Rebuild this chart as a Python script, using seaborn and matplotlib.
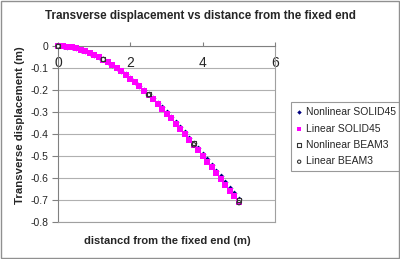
import matplotlib
matplotlib.use("Agg")
import matplotlib.pyplot as plt
import seaborn as sns
import pandas as pd
from matplotlib.patches import Rectangle

sns.set_style("white")
plt.rcParams['font.family'] = ['Liberation Sans', 'DejaVu Sans']

# SOLID45 nodal positions (m)
x_solid = [0.0, 0.125, 0.25, 0.375, 0.5, 0.625, 0.75, 0.875, 1.0, 1.125, 1.25,
           1.375, 1.5, 1.625, 1.75, 1.875, 2.0, 2.125, 2.25, 2.375, 2.5,
           2.625, 2.75, 2.875, 3.0, 3.125, 3.25, 3.375, 3.5, 3.625, 3.75,
           3.875, 4.0, 4.125, 4.25, 4.375, 4.5, 4.625, 4.75, 4.875, 5.0]
y_lin_solid = [0.0, -0.001, -0.003, -0.006, -0.010, -0.016, -0.023, -0.031, -0.040, -0.050, -0.061,
               -0.073, -0.086, -0.100, -0.115, -0.131, -0.148, -0.165, -0.183, -0.202, -0.222,
               -0.242, -0.263, -0.285, -0.307, -0.329, -0.353, -0.376, -0.400, -0.425, -0.449,
               -0.474, -0.500, -0.526, -0.551, -0.578, -0.604, -0.630, -0.657, -0.683, -0.710]
y_nl_solid = [0.0, -0.001, -0.003, -0.006, -0.010, -0.016, -0.022, -0.030, -0.039, -0.049, -0.060,
              -0.072, -0.084, -0.098, -0.113, -0.128, -0.145, -0.162, -0.180, -0.198, -0.217,
              -0.237, -0.258, -0.279, -0.300, -0.322, -0.345, -0.368, -0.392, -0.416, -0.440,
              -0.465, -0.490, -0.515, -0.540, -0.566, -0.592, -0.618, -0.644, -0.670, -0.696]

# BEAM3 nodal positions (m)
x_beam = [0.0, 1.25, 2.5, 3.75, 5.0]
y_nl_beam = [0.0, -0.060, -0.218, -0.442, -0.700]
y_lin_beam = [0.0, -0.061, -0.222, -0.449, -0.712]

labels = ["Nonlinear SOLID45", "Linear SOLID45", "Nonlinear BEAM3", "Linear BEAM3"]
x_ticks = [0, 2, 4, 6]
y_ticks = [0, -0.1, -0.2, -0.3, -0.4, -0.5, -0.6, -0.7, -0.8]
y_ticklabels = ["0", "-0.1", "-0.2", "-0.3", "-0.4", "-0.5", "-0.6", "-0.7", "-0.8"]

fig = plt.figure(figsize=(4.0, 2.59), dpi=100)
ax = fig.add_axes([0.145, 0.143, 0.543, 0.679])

df1 = pd.DataFrame({"x": x_solid, "y": y_nl_solid})
df2 = pd.DataFrame({"x": x_solid, "y": y_lin_solid})
df3 = pd.DataFrame({"x": x_beam, "y": y_nl_beam})
df4 = pd.DataFrame({"x": x_beam, "y": y_lin_beam})

sns.scatterplot(data=df1, x="x", y="y", ax=ax, marker="D", s=9, color="#000080",
                edgecolor="#000080", linewidth=0, label=labels[0], zorder=3, clip_on=False)
sns.scatterplot(data=df2, x="x", y="y", ax=ax, marker="s", s=14, color="#ff00ff",
                edgecolor="#ff00ff", linewidth=0, label=labels[1], zorder=4, clip_on=False)
sns.scatterplot(data=df3, x="x", y="y", ax=ax, marker="s", s=10, facecolor="white",
                edgecolor="#333333", linewidth=0.8, label=labels[2], zorder=5, clip_on=False)
sns.scatterplot(data=df4, x="x", y="y", ax=ax, marker="o", s=10, facecolor="none",
                edgecolor="#333333", linewidth=0.8, label=labels[3], zorder=6, clip_on=False)

ax.set_xlim(0, 6)
ax.set_ylim(-0.8, 0)
ax.set_xticks(x_ticks)
ax.set_xticklabels([str(t) for t in x_ticks], fontsize=7.5)
ax.set_yticks(y_ticks)
ax.set_yticklabels(y_ticklabels, fontsize=7.5)

ax.yaxis.grid(True, color="#b0b0b0", linewidth=0.8)
ax.xaxis.grid(False)

ax.spines['bottom'].set_position(('data', 0))
ax.spines['bottom'].set_color("#808080")
ax.spines['top'].set_position(('data', -0.8))
ax.spines['top'].set_color("#a0a0a0")
ax.spines['right'].set_color("#a0a0a0")
ax.spines['left'].set_color("#808080")
for s in ax.spines.values():
    s.set_linewidth(0.8)

ax.tick_params(axis='x', direction='in', length=3, pad=7, color="#808080", bottom=True)
ax.tick_params(axis='y', direction='out', length=4, pad=3, color="#808080", left=True)

ax.set_xlabel("")
ax.set_ylabel("")
fig.text(0.418, 0.07, "distancd from the fixed end (m)", fontsize=8, fontweight='bold',
         ha='center', va='center')
fig.text(0.05, 0.515, "Transverse displacement (m)", fontsize=8.2, fontweight='bold',
         ha='center', va='center', rotation=90)
fig.text(0.5, 0.94, "Transverse displacement vs distance from the fixed end", fontsize=8.4,
         fontweight='bold', ha='center', va='center')

leg = ax.legend(loc="upper left", bbox_to_anchor=(1.072, 0.68), fontsize=7.5,
                frameon=True, fancybox=False, edgecolor="#808080", handletextpad=0.3,
                borderpad=0.45, labelspacing=0.62, handlelength=0.7, markerscale=0.75,
                borderaxespad=0)
leg.get_frame().set_linewidth(0.8)

fig.add_artist(Rectangle((0.002, 0.003), 0.995, 0.993, transform=fig.transFigure,
                         fill=False, edgecolor="#909090", linewidth=1))

fig.savefig("out.png", dpi=100)
